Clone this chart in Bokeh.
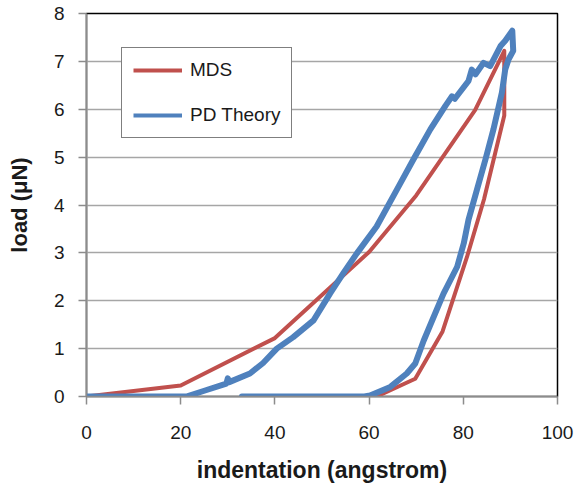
from bokeh.plotting import figure
from bokeh.models import Range1d, FixedTicker, Legend, LegendItem
from bokeh.embed import file_html
from bokeh.resources import INLINE

# ---- data ----
mds_x = [0, 20, 40, 60, 70, 82.5, 88.7, 88.7, 84.4, 80.8, 75.6, 69.8, 61.6]
mds_y = [0, 0.23, 1.22, 3.02, 4.2, 5.98, 7.22, 5.87, 4.12, 2.92, 1.36, 0.37, 0]

pd_x = [0, 21.2, 25, 29.7, 30.0, 30.3, 34.7, 37.5, 40.4, 43.9, 48.2, 51.7,
        54.5, 57.4, 61.6, 65.9, 69.4, 73, 76.2, 77.6, 78.2, 81.1, 81.8, 82.6,
        84.3, 85.7, 86.8, 87.9, 88.9, 90.4,
        90.6, 89.6, 88.9, 88.2, 86.4, 84.7, 82.9, 81.1, 80.1, 78.7, 75.8,
        73.7, 71.6, 69.8, 68, 64.5, 60.2, 59, 33]
pd_y = [0, 0, 0.12, 0.27, 0.38, 0.3, 0.48, 0.7, 1.0, 1.24, 1.59, 2.15,
        2.57, 2.99, 3.55, 4.32, 4.95, 5.58, 6.07, 6.27, 6.22, 6.59, 6.83, 6.73,
        6.97, 6.9, 7.11, 7.32, 7.43, 7.64,
        7.22, 7.04, 6.83, 6.35, 5.58, 4.95, 4.32, 3.69, 3.2, 2.71, 2.15,
        1.66, 1.17, 0.69, 0.48, 0.2, 0.02, 0, 0]

x_ticks = [0, 20, 40, 60, 80, 100]
y_ticks = [0, 1, 2, 3, 4, 5, 6, 7, 8]

RED = "#C0504D"
BLUE = "#4F81BD"
FONT = "Liberation Sans"
NAN = float("nan")

p = figure(width=575, height=487, output_backend="svg", toolbar_location=None,
           x_range=Range1d(0, 100), y_range=Range1d(0, 8),
           min_border_left=86, min_border_right=18, min_border_top=13,
           min_border_bottom=91)

p.background_fill_color = "white"
p.border_fill_color = "white"
p.outline_line_color = "black"
p.outline_line_width = 1.5

p.xgrid.grid_line_color = None
p.ygrid.grid_line_color = "#a6a6a6"
p.ygrid.grid_line_width = 1.5

for ax in (p.xaxis[0], p.yaxis[0]):
    ax.axis_line_color = "#8c8c8c"
    ax.axis_line_width = 1.5
    ax.major_tick_line_color = "#8c8c8c"
    ax.major_tick_line_width = 1.5
    ax.major_tick_out = 8
    ax.major_tick_in = 0
    ax.minor_tick_line_color = None
    ax.major_label_text_font = FONT
    ax.major_label_text_font_size = "19px"
    ax.major_label_text_color = "#1a1a1a"
    ax.axis_label_text_font = FONT
    ax.axis_label_text_font_style = "bold"
    ax.axis_label_text_color = "#1a1a1a"

p.xaxis.axis_label_text_font_size = "23px"
p.yaxis.axis_label_text_font_size = "22px"
p.xaxis.ticker = FixedTicker(ticks=x_ticks)
p.yaxis.ticker = FixedTicker(ticks=y_ticks)
p.xaxis.axis_label = "indentation (angstrom)"
p.yaxis.axis_label = "load (\u03bcN)"
p.xaxis.major_label_standoff = 21
p.yaxis.major_label_standoff = 14
p.xaxis.axis_label_standoff = 15
p.yaxis.axis_label_standoff = 19

r_mds = p.line(mds_x, mds_y, line_color=RED, line_width=4, line_join="round")
r_pd = p.line(pd_x, pd_y, line_color=BLUE, line_width=6, line_join="round",
              line_cap="round")

# legend swatches (a single NaN point draws nothing; only styles the key)
leg_mds = p.line([NAN], [NAN], line_color=RED, line_width=4)
leg_pd = p.line([NAN], [NAN], line_color=BLUE, line_width=4)

legend = Legend(items=[LegendItem(label="MDS", renderers=[leg_mds]),
                       LegendItem(label="PD Theory", renderers=[leg_pd])],
                location=(35, 258))
legend.label_text_font = FONT
legend.label_text_font_size = "19px"
legend.label_text_color = "#1a1a1a"
legend.border_line_color = "black"
legend.border_line_width = 1.5
legend.background_fill_alpha = 1
legend.padding = 11
legend.spacing = 23
legend.glyph_width = 49
legend.glyph_height = 20
legend.label_height = 20
legend.label_standoff = 8
legend.margin = 0
p.add_layout(legend, "center")

open("out.html", "w").write(file_html(p, INLINE))
